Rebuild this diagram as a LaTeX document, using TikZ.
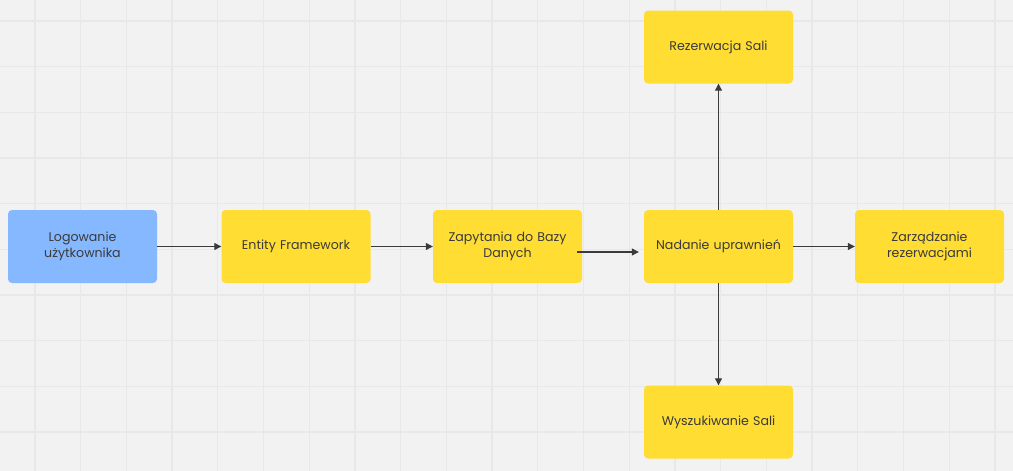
\documentclass[tikz,border=0pt]{standalone}
\usepackage{fontspec}
\setmainfont{Poppins}
\usetikzlibrary{positioning,arrows.meta}
\definecolor{boardBg}{HTML}{F2F2F2}
\definecolor{boardGrid}{HTML}{E8E8E8}
\definecolor{stickyYellow}{HTML}{FFDD33}
\definecolor{stickyBlue}{HTML}{85B8FF}
\definecolor{inkGray}{HTML}{3A3A3A}
\tikzset{
    sticky/.style={
		rounded corners=4pt, minimum width=149pt, minimum height=73pt,
		text width=130pt, align=center, text=inkGray,
		font=\fontsize{12.6}{16.5}\selectfont, inner sep=0pt
	}
}
\tikzset{
    yellowSticky/.style={sticky, fill=stickyYellow},
    blueSticky/.style={sticky, fill=stickyBlue},
    flow/.style={draw=inkGray, line width=1.1pt, -{Triangle[length=7pt,width=7pt]}}
}
\begin{document}
\begin{tikzpicture}[x=1pt,y=-1pt]
        \useasboundingbox (0,0) rectangle (1013,471);
        \fill[boardBg] (0,0) rectangle (1013,471);
        \foreach \i in {0,...,21} {
			\draw[boardGrid, line width=1.3pt] (35+45.71*\i,0) -- (35+45.71*\i,471);
		}
        \foreach \j in {0,...,9} {
			\draw[boardGrid, line width=1.3pt] (0,21+45.67*\j) -- (1013,21+45.67*\j);
		}
        \node[blueSticky] (logowanie) at (82.5,246.5) {Logowanie\\użytkownika};
        \node[yellowSticky] (entity) at (296,246.5) {Entity Framework};
        \node[yellowSticky] (zapytania) at (507.5,246.5) {Zapytania do Bazy\\Danych};
        \node[yellowSticky] (nadanie) at (718.5,246.5) {Nadanie uprawnień};
        \node[yellowSticky] (zarzadzanie) at (929.5,246.5) {Zarządzanie\\rezerwacjami};
        \node[yellowSticky] (rezerwacja) at (718.5,47) {Rezerwacja Sali};
        \node[yellowSticky] (wyszukiwanie) at (718.5,422) {Wyszukiwanie Sali};
        \draw[flow] (logowanie) -- (entity);
        \draw[flow] (entity) -- (zapytania);
        \draw[flow] ([xshift=-5pt,yshift=-5.5pt]zapytania.east) -- ([xshift=-5pt,yshift=-5.5pt]nadanie.west);
        \draw[flow] (nadanie) -- (zarzadzanie);
        \draw[flow] (nadanie) -- (rezerwacja);
        \draw[flow] (nadanie) -- (wyszukiwanie);
      \end{tikzpicture}
\end{document}
